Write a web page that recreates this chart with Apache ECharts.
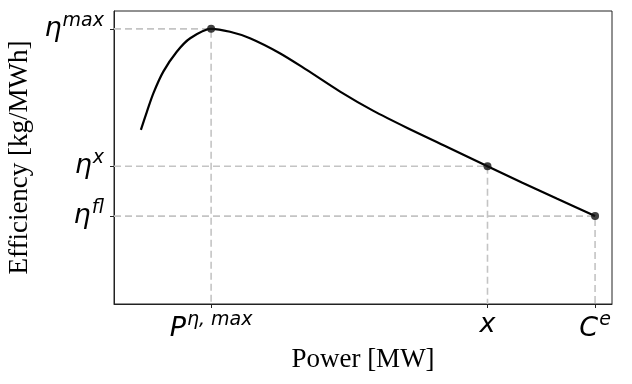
<!DOCTYPE html>
<html>
<head>
<meta charset="utf-8">
<script src="https://cdn.jsdelivr.net/npm/echarts@6/dist/echarts.min.js"></script>
<style>
  html, body { margin: 0; padding: 0; background: #fff; }
  #chart { width: 632px; height: 384px; }
</style>
</head>
<body>
<div id="chart"></div>
<script>
// efficiency curve (arbitrary 0-100 units)
const curvePower = [5.4, 6.6, 7.9, 9.9, 12.6, 15.3, 19.5, 23.3, 27.3, 33.3, 38.7, 45.4, 52.0, 59.0, 66.8, 75.0, 82.0, 89.0, 96.6];
const curveEff = [59.4, 65.6, 71.9, 79.3, 86.1, 90.7, 93.9, 92.9, 90.7, 85.6, 79.9, 72.5, 66.0, 60.0, 53.7, 47.0, 41.4, 35.9, 30.0];

// marked points: peak, x, full load
const markPower = [19.5, 75.0, 96.6];
const markEff = [93.9, 47.0, 30.0];

const xTickLabels = ["{b|P}{s|η, max}", "{b|x}", "{b|C}{s|e}"];
const yTickLabels = ["{b|η}{s|max}", "{b|η}{s|x}", "{b|η}{s|fl}"];

const mathRich = {
  b: { fontFamily: "DejaVu Sans", fontStyle: "italic", fontSize: 27, color: "#000" },
  s: { fontFamily: "DejaVu Sans", fontStyle: "italic", fontSize: 19, color: "#000", verticalAlign: "top", padding: [0, 0, 16, 1] }
};

// dashed guide lines from the axes to each marked point
const guideSeries = markPower.map((p, i) => ({
  type: "line",
  data: [[0, markEff[i]], [p, markEff[i]], [p, 0]],
  symbol: "none",
  silent: true,
  z: 1,
  lineStyle: { color: "#c4c4c4", width: 1.6, type: [7, 4] }
}));

const chart = echarts.init(document.getElementById("chart"));
chart.setOption({
  animation: false,
  grid: {
    left: 114, right: 20, top: 11, bottom: 80,
    outerBoundsMode: "none", containLabel: false,
    show: true, borderColor: "#222", borderWidth: 1
  },
  xAxis: {
    type: "value", min: 0, max: 100,
    name: "Power [MW]", nameLocation: "middle", nameGap: 41,
    nameTextStyle: { fontFamily: "Liberation Serif", fontSize: 27, color: "#000" },
    axisLine: { show: true, lineStyle: { color: "#222" } },
    axisTick: { show: true, customValues: markPower, length: 4, lineStyle: { color: "#222" } },
    axisLabel: {
      customValues: markPower, margin: 7, rich: mathRich,
      formatter: (v) => xTickLabels[markPower.indexOf(v)]
    },
    splitLine: { show: false }
  },
  yAxis: {
    type: "value", min: 0, max: 100,
    name: "Efficiency [kg/MWh]", nameLocation: "middle", nameGap: 79,
    nameTextStyle: { fontFamily: "Liberation Serif", fontSize: 27, color: "#000" },
    axisLine: { show: true, lineStyle: { color: "#222" } },
    axisTick: { show: true, customValues: markEff, length: 4, lineStyle: { color: "#222" } },
    axisLabel: {
      customValues: markEff, margin: 10, rich: mathRich,
      formatter: (v) => yTickLabels[markEff.indexOf(v)]
    },
    splitLine: { show: false }
  },
  series: [
    ...guideSeries,
    {
      type: "line",
      data: curvePower.map((p, i) => [p, curveEff[i]]),
      smooth: 0.3,
      symbol: "none",
      z: 2,
      lineStyle: { color: "#000", width: 2.2 }
    },
    {
      type: "scatter",
      data: markPower.map((p, i) => [p, markEff[i]]),
      symbolSize: 8,
      z: 3,
      itemStyle: { color: "#111" }
    }
  ]
});
</script>
</body>
</html>
